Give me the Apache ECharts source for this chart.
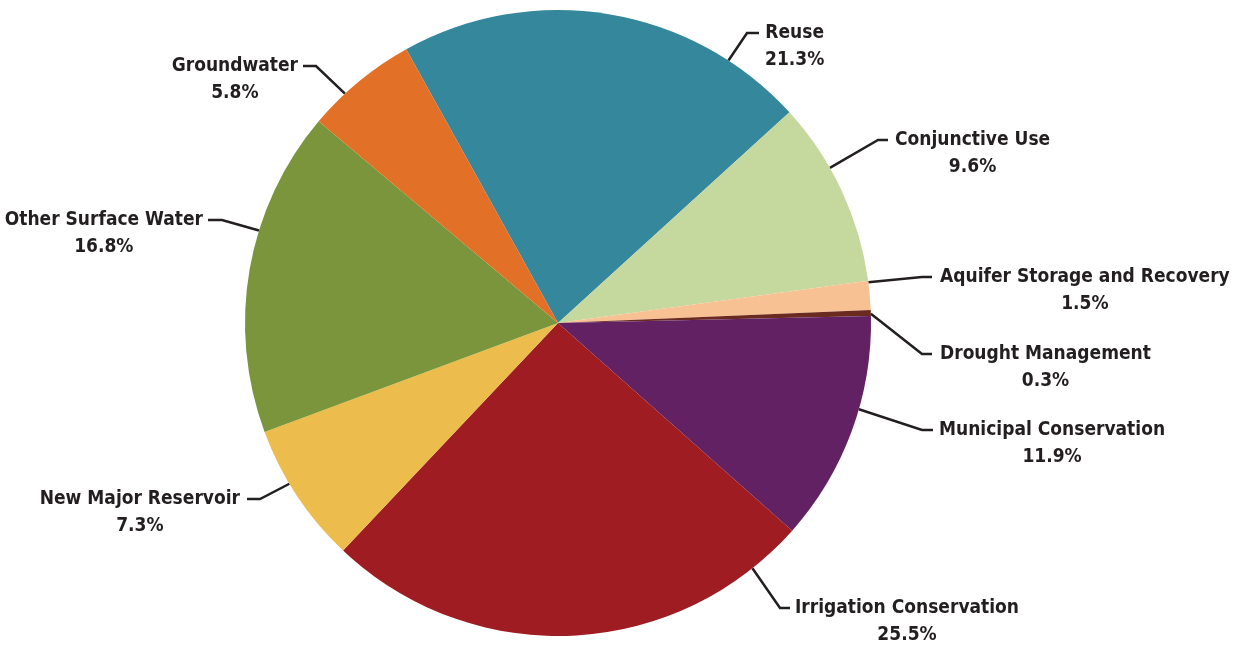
<!DOCTYPE html>
<html>
<head>
<meta charset="utf-8">
<script src="https://cdn.jsdelivr.net/npm/echarts@6/dist/echarts.min.js"></script>
<style>
html,body{margin:0;padding:0;background:#fff;}
#chart{width:1246px;height:647px;}
</style>
</head>
<body>
<div id="chart"></div>
<script>
// ---- data ----
const categories = ['Reuse', 'Conjunctive Use', 'Aquifer Storage and Recovery', 'Drought Management',
  'Municipal Conservation', 'Irrigation Conservation', 'New Major Reservoir', 'Other Surface Water', 'Groundwater'];
const shares = [21.3, 9.6, 1.5, 0.3, 11.9, 25.5, 7.3, 16.8, 5.8];

// ---- styles / layout ----
const colors = ['#35879C', '#C5D89D', '#F8C194', '#6B2A1F', '#622163', '#9E1C22', '#ECBC4C', '#7A953C', '#E27027'];
const CX = 558, CY = 323, R = 313;
const LINE_H = 27;
// label layout: side, text edge x, name-line y, leader start angle (deg), knee x, line end x
const labelSide  = ['r', 'r', 'r', 'r', 'r', 'r', 'l', 'l', 'l'];
const labelTextX = [765, 895, 940, 940, 939, 795, 240, 203, 298];
const labelNameY = [33, 140, 277, 354, 430, 608, 499, 220, 66];
const leadAngle  = [57, 29.7, 7.5, 1.7, -16, -51.6, -149.1, 162.8, 132.9];
const kneeX      = [747, 878, 922, 922, 922, 780, 260, 222, 316];
const lineEndX   = [759, 888, 932, 932, 933, 790, 247, 208, 303];

const fontFam = '"Liberation Sans Narrow", "Arial Narrow", "DejaVu Sans Condensed", sans-serif';
const txt = { fontSize: 19, fontWeight: 'bold', fontFamily: fontFam, color: '#231F20', lineHeight: LINE_H, align: 'center' };

const chart = echarts.init(document.getElementById('chart'), null, { renderer: 'canvas' });
chart.setOption({
  backgroundColor: '#ffffff',
  animation: false,
  series: [{
    type: 'pie',
    center: [CX, CY],
    radius: R,
    startAngle: 119,
    clockwise: true,
    avoidLabelOverlap: false,
    itemStyle: { borderWidth: 0 },
    data: categories.map((c, i) => ({ name: c, value: shares[i], itemStyle: { color: colors[i] } })),
    label: {
      show: true,
      position: 'outside',
      formatter: p => '{n|' + p.name + '}\n{p|' + p.value.toFixed(1) + '%}',
      rich: { n: txt, p: txt }
    },
    labelLine: { show: true, smooth: false, lineStyle: { color: '#231F20', width: 2.5 } },
    emphasis: { disabled: true },
    labelLayout: function (params) {
      const i = params.dataIndex;
      const a = leadAngle[i] * Math.PI / 180;
      const sx = CX + R * Math.cos(a), sy = CY - R * Math.sin(a);
      const y = labelNameY[i];
      return {
        x: labelTextX[i],
        y: y - LINE_H / 2,
        align: labelSide[i] === 'r' ? 'left' : 'right',
        verticalAlign: 'top',
        hideOverlap: false,
        labelLinePoints: [[sx, sy], [kneeX[i], y], [lineEndX[i], y]]
      };
    }
  }]
});
</script>
</body>
</html>
